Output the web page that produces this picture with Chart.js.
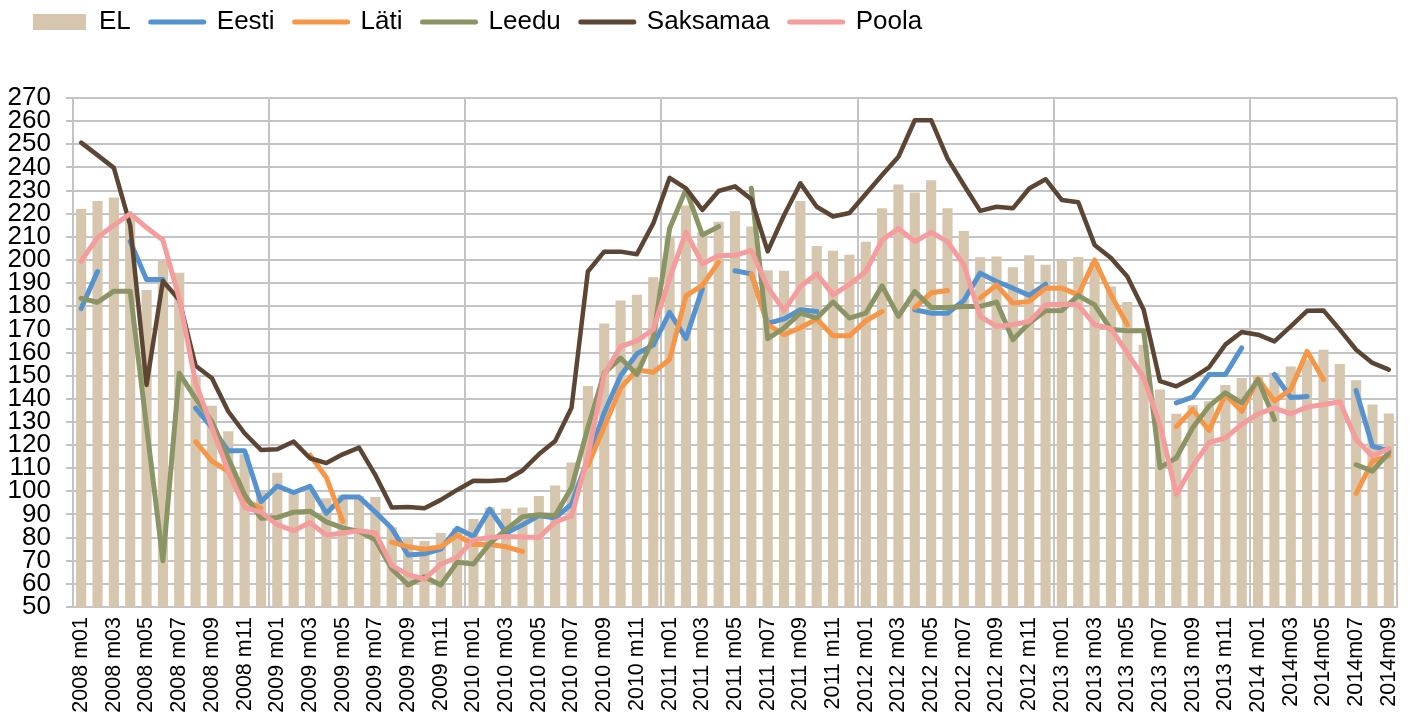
<!DOCTYPE html>
<html>
<head>
<meta charset="utf-8">
<script src="https://cdn.jsdelivr.net/npm/chart.js@4.4.1/dist/chart.umd.min.js"></script>
<style>
  html, body { margin: 0; padding: 0; background: #fff; }
  canvas { display: block; }
</style>
</head>
<body>
<canvas id="chart" width="1413" height="718"></canvas>
<script>
// months 2008 m01 .. 2014m09
const months = [
  '2008 m01','2008 m02','2008 m03','2008 m04','2008 m05','2008 m06','2008 m07','2008 m08','2008 m09','2008 m10','2008 m11','2008 m12',
  '2009 m01','2009 m02','2009 m03','2009 m04','2009 m05','2009 m06','2009 m07','2009 m08','2009 m09','2009 m10','2009 m11','2009 m12',
  '2010 m01','2010 m02','2010 m03','2010 m04','2010 m05','2010 m06','2010 m07','2010 m08','2010 m09','2010 m10','2010 m11','2010 m12',
  '2011 m01','2011 m02','2011 m03','2011 m04','2011 m05','2011 m06','2011 m07','2011 m08','2011 m09','2011 m10','2011 m11','2011 m12',
  '2012 m01','2012 m02','2012 m03','2012 m04','2012 m05','2012 m06','2012 m07','2012 m08','2012 m09','2012 m10','2012 m11','2012 m12',
  '2013 m01','2013 m02','2013 m03','2013 m04','2013 m05','2013 m06','2013 m07','2013 m08','2013 m09','2013 m10','2013 m11','2013 m12',
  '2014 m01','2014m02','2014m03','2014m04','2014m05','2014m06','2014m07','2014m08','2014m09'
];

const el = [
  222, 225.5, 227, 218, 187, 200, 194.5, 150, 137, 126, 116, 100,
  108, 100, 101, 97, 98.5, 98, 97.5, 84.5, 80, 78.5, 82, 84,
  88, 93, 92.5, 93, 98, 102.5, 112.5, 145.5, 172.5, 182.5, 185, 192.5,
  210.5, 223.5, 212, 216.5, 221, 214.5, 195.5, 195.3, 225.5, 206, 204, 202.2,
  207.9, 222.3, 232.6, 229.2, 234.5, 222.3, 212.5, 201.2, 201.5, 196.9, 202, 197.9,
  199.9, 201.3, 199, 188.5, 181.8, 163.4, 144, 133.5, 137.2, 138.9, 145.9, 149,
  150, 151.2, 154, 157, 161.2, 155, 148, 137.5, 133.6
];

const eesti = [
  179, 195, null, 208, 191.5, 191.5, null, 136, 127.5, 117.5, 117.5, 95.5,
  102.3, 99.5, 102.2, 90.5, 97.5, 97.5, 91, 84, 72.5, 73, 75, 84,
  80.5, 92.3, 82, 85.5, 89.5, 88.5, 94.5, 114, 134, 150, 159.5, 163.2,
  177.3, 166.1, 187.5, null, 195.3, 194, 172.6, 174.5, 178.5, 177.7, null, null,
  null, null, null, 178.5, 177, 177, 182.5, 194.3, 190.7, 187.8, 184.7, 189.5,
  null, null, null, null, null, null, null, 138.2, 140.7, 150.5, 150.5, 162,
  null, 150.5, 140.5, 141, null, null, 143.5, 119.5, 117.5
];

const lati = [
  null, null, null, null, null, null, null, 121.5, 113, 108.6, 96.3, 92.7,
  null, null, 115.6, 106, 87, null, null, 78, 76, 75, 76, 81,
  77, 77, 76, 74, null, null, null, 111, 128, 144.5, 152.5, 151.5,
  157, 184.5, 189, 199, null, 194, 172, 167.7, 170.7, 174.5, 167.2, 167.2,
  173.7, 177.7, null, 179.4, 185.8, 186.8, null, 183.5, 189.2, 181.3, 182.1, 187.8,
  187.8, 184.9, 200, 184.9, 172, null, null, 128, 135.4, 126.3, 141.8, 134.6,
  148.7, 139, 144, 160.5, 148.3, null, 99, 113.1, 115.3
];

const leedu = [
  183.4, 181.7, 186.5, 186.5, 128, 70, 151, 140.2, 130.1, 114.3, 98.5, 88.4,
  88.7, 91, 91.4, 86.8, 84.2, 82.7, 79, 66.5, 59.5, 63.1, 59.5, 69.3,
  68.6, 77.5, 83.5, 89, 89.9, 89.5, 101.6, 127.5, 151.2, 157.6, 150.5, 166.3,
  213.6, 230.5, 210.8, 214.4, null, 231, 166, 170.6, 177, 174.9, 181.8, 174.9,
  177, 188.8, 175.6, 186.4, 179.5, 179.5, 179.9, 179.9, 181.8, 165.5, 172.7, 178,
  178.2, 184.6, 180.6, 169.9, 169.4, 169.4, 110.2, 114.5, 127.5, 136.8, 142.6, 138.2,
  148.3, 131, null, null, null, null, 111.5, 108.7, 116.6
];

const saksamaa = [
  250.7, 245.3, 239.8, 215, 146, 190.9, 182.7, 154.3, 148.9, 134.5, 125.1, 117.9,
  118.2, 121.5, 114.3, 112.2, 116, 118.9, 107, 93, 93.2, 92.7, 96.3, 100.6,
  104.6, 104.5, 104.9, 109, 116, 121.7, 136.1, 195, 203.6, 203.6, 202.5, 215.8,
  235.5, 230.9, 221.6, 229.8, 231.8, 226.2, 203.7, 219.3, 233.1, 223, 218.8, 220.3,
  228.5, 236.7, 244.6, 260.4, 260.4, 243.9, 232.4, 221.2, 223, 222.3, 230.9, 234.9,
  225.9, 224.9, 206.5, 200.8, 192.8, 178.5, 147.6, 145.4, 149, 153.6, 163.4, 168.9,
  167.7, 164.8, 171.3, 178, 178.2, 169.9, 161.2, 155.5, 152.6
];

const poola = [
  199.5, 209.7, 215, 220, 214, 208.6, 183.4, 147, 127.5, 108.6, 93, 91,
  85.5, 83, 86.5, 81, 82, 83, 82, 68, 64, 62, 68.5, 71.5,
  79, 80, 80.5, 80.3, 80, 86.8, 89.4, 115, 150.5, 162.5, 165, 170,
  192, 212, 198.4, 201.8, 202, 204.1, 188.2, 178.1, 188.5, 194, 184.9, 189.4,
  195, 208.6, 213.6, 207.9, 211.9, 207.9, 197.9, 175.6, 171.3, 172, 173.4, 180.6,
  180.9, 180.6, 172, 170.3, 159.8, 149, 128.9, 98.7, 110.9, 121, 123.1, 128.9,
  133.5, 136.1, 133.5, 136.4, 137.5, 138.7, 122.4, 115.2, 118.5
];

const FONT = "'Liberation Sans', Arial, sans-serif";
const GRID = '#c4c4c4';

function lineSet(label, data, color, order, width = 5) {
  return {
    type: 'line', label, data, order,
    borderColor: color, backgroundColor: color,
    borderWidth: width, pointRadius: 0, pointHoverRadius: 0,
    tension: 0, spanGaps: false,
    borderJoinStyle: 'round', borderCapStyle: 'round'
  };
}

// push the legend up/right and reserve space above the plot
const legendSpace = {
  id: 'legendSpace',
  beforeInit(chart) {
    const fit = chart.legend.fit;
    chart.legend.fit = function () {
      fit.call(this);
      this.height = 98;
    };
  },
  afterLayout(chart) {
    chart.legend.top -= 11;
    chart.legend.left += 13;
  }
};

new Chart(document.getElementById('chart'), {
  type: 'bar',
  data: {
    labels: months,
    datasets: [
      { type: 'bar', label: 'EL', data: el, order: 10, backgroundColor: '#d5c6ad',
        barPercentage: 0.62, categoryPercentage: 1 },
      lineSet('Eesti', eesti, '#5493d0', 5),
      lineSet('Läti', lati, '#f79646', 4),
      lineSet('Leedu', leedu, '#8a9464', 3),
      lineSet('Saksamaa', saksamaa, '#5c4533', 2, 4.5),
      lineSet('Poola', poola, '#f59c9c', 1)
    ]
  },
  options: {
    responsive: false,
    animation: false,
    layout: { padding: { left: 0, right: 16, top: 0, bottom: 0 } },
    plugins: {
      tooltip: { enabled: false },
      legend: {
        position: 'top',
        align: 'start',
        labels: {
          usePointStyle: true,
          pointStyleWidth: 53,
          boxHeight: 16,
          padding: 20,
          color: '#000',
          font: { family: FONT, size: 26 },
          generateLabels: chart => chart.data.datasets.map((ds, i) => {
            const isLine = ds.type === 'line';
            return {
              text: ds.label,
              datasetIndex: i,
              fillStyle: isLine ? ds.borderColor : ds.backgroundColor,
              strokeStyle: isLine ? ds.borderColor : ds.backgroundColor,
              lineWidth: isLine ? 5 : 0,
              lineCap: 'round',
              pointStyle: isLine ? 'line' : 'rect',
              fontColor: '#000',
              hidden: false
            };
          })
        }
      }
    },
    scales: {
      x: {
        offset: true,
        afterFit: s => {
          s.height = 111;
          s.paddingLeft = 0;
          s.paddingRight = 0;
        },
        grid: {
          offset: true,
          drawTicks: false,
          lineWidth: 2,
          color: c => (c.index === undefined || c.index % 12 === 0) ? GRID : 'rgba(0,0,0,0)'
        },
        border: { color: GRID, width: 2 },
        ticks: {
          autoSkip: false,
          minRotation: 90,
          maxRotation: 90,
          padding: 10,
          color: '#000',
          font: { family: FONT, size: 21.5 },
          callback: (v, i) => i % 2 === 0 ? months[i] : ''
        }
      },
      y: {
        min: 50,
        max: 270,
        afterFit: s => { s.width = 73; },
        grid: { color: GRID, lineWidth: 2, tickLength: 7 },
        border: { color: GRID, width: 2 },
        ticks: {
          stepSize: 10,
          autoSkip: false,
          padding: 15,
          color: '#000',
          font: { family: FONT, size: 26 }
        }
      }
    }
  },
  plugins: [legendSpace]
});
</script>
</body>
</html>
